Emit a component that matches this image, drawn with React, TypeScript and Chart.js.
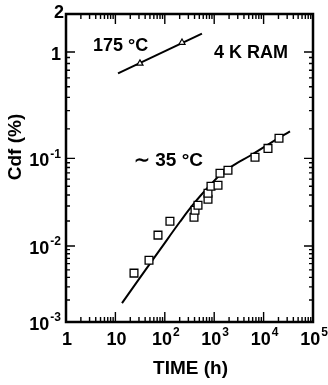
import React, { useEffect, useRef } from 'react';
import { Chart, registerables, Scale } from 'chart.js';

Chart.register(...registerables);

// Axis ticks (value, base text, exponent text)
const xTickValues = [1, 10, 100, 1000, 10000, 100000];
const xTickBases = ['1', '10', '10', '10', '10', '10'];
const xTickExps = ['', '', '2', '3', '4', '5'];
const yTickValues = [0.001, 0.01, 0.1, 1, 2];
const yTickBases = ['10', '10', '10', '1', '2'];
const yTickExps = ['-3', '-2', '-1', '', ''];

// 175 °C series (Cdf in %)
const hot175LineX = [11.3, 565];
const hot175LineY = [0.657, 1.41];
const hot175PointX = [31.4, 223];
const hot175PointY = [0.801, 1.195];

// ~35 °C series (Cdf in %)
const cool35PointX = [23.8, 47.9, 72.8, 127, 390, 409, 470, 749, 749, 861, 1194, 1310, 1901, 6700, 12270, 20500];
const cool35PointY = [0.00454, 0.00663, 0.01357, 0.0199, 0.0222, 0.0268, 0.0306, 0.0358, 0.0418, 0.05, 0.0513, 0.0694, 0.0747, 0.1027, 0.127, 0.161];
const cool35FitX = [13.6, 31.5, 80, 203, 409, 822, 1438, 2636, 5310, 13490, 34200];
const cool35FitY = [0.00182, 0.00397, 0.009, 0.0196, 0.0331, 0.0513, 0.0694, 0.0866, 0.1065, 0.1431, 0.189];

const xTitle = 'TIME (h)';
const yTitle = 'Cdf (%)';
const labelHot = '175 °C';
const labelCool = '∼ 35 °C';
const labelRam = '4 K RAM';

const FONT = '"Liberation Sans", Arial, sans-serif';

const zip = (xs: number[], ys: number[]) => xs.map((x, i) => ({ x, y: ys[i] }));

// Inverse standard normal CDF (Acklam) for a normal-probability (probit) axis
function normInv(p: number): number {
  const a = [-3.969683028665376e1, 2.209460984245205e2, -2.759285104469687e2, 1.38357751867269e2, -3.066479806614716e1, 2.506628277459239];
  const b = [-5.447609879822406e1, 1.615858368580409e2, -1.556989798598866e2, 6.680131188771972e1, -1.328068155288572e1];
  const c = [-7.784894002430293e-3, -3.223964580411365e-1, -2.400758277161838, -2.549732539343734, 4.374664141464968, 2.938163982698783];
  const d = [7.784695709041462e-3, 3.224671290700398e-1, 2.445134137142996, 3.754408661907416];
  const plow = 0.02425;
  if (p < plow) {
    const q = Math.sqrt(-2 * Math.log(p));
    return (((((c[0] * q + c[1]) * q + c[2]) * q + c[3]) * q + c[4]) * q + c[5]) / ((((d[0] * q + d[1]) * q + d[2]) * q + d[3]) * q + 1);
  }
  if (p <= 1 - plow) {
    const q = p - 0.5;
    const r = q * q;
    return ((((((a[0] * r + a[1]) * r + a[2]) * r + a[3]) * r + a[4]) * r + a[5]) * q) / (((((b[0] * r + b[1]) * r + b[2]) * r + b[3]) * r + b[4]) * r + 1);
  }
  const q = Math.sqrt(-2 * Math.log(1 - p));
  return -(((((c[0] * q + c[1]) * q + c[2]) * q + c[3]) * q + c[4]) * q + c[5]) / ((((d[0] * q + d[1]) * q + d[2]) * q + d[3]) * q + 1);
}

function normCdf(z: number): number {
  const t = 1 / (1 + 0.3275911 * Math.abs(z) / Math.SQRT2);
  const y = 1 - (((((1.061405429 * t - 1.453152027) * t) + 1.421413741) * t - 0.284496736) * t + 0.254829592) * t * Math.exp(-(z * z) / 2);
  return z >= 0 ? (1 + y) / 2 : (1 - y) / 2;
}

class ProbitScale extends (Scale as any) {
  static id = 'probit';
  static defaults = {};
  determineDataLimits() {
    this.min = this.options.min;
    this.max = this.options.max;
  }
  buildTicks() {
    return yTickValues.map((v) => ({ value: v }));
  }
  configure() {
    super.configure();
    this._zmin = normInv(this.min / 100);
    this._zmax = normInv(this.max / 100);
  }
  getLabelForValue(v: number) {
    return String(v);
  }
  getPixelForValue(v: number) {
    return this.getPixelForDecimal((normInv(v / 100) - this._zmin) / (this._zmax - this._zmin));
  }
  getValueForPixel(px: number) {
    const z = this._zmin + this.getDecimalForPixel(px) * (this._zmax - this._zmin);
    return normCdf(z) * 100;
  }
}
Chart.register(ProbitScale as any);

function drawPow(ctx: CanvasRenderingContext2D, base: string, exp: string, x: number, y: number, align: 'center' | 'right') {
  ctx.font = `bold 18px ${FONT}`;
  const bw = ctx.measureText(base).width;
  ctx.font = `bold 12px ${FONT}`;
  const ew = exp ? ctx.measureText(exp).width + 1 : 0;
  const total = bw + ew;
  const left = align === 'center' ? x - total / 2 : x - total;
  ctx.textAlign = 'left';
  ctx.textBaseline = 'middle';
  ctx.font = `bold 18px ${FONT}`;
  ctx.fillText(base, left, y);
  if (exp) {
    ctx.font = `bold 12px ${FONT}`;
    ctx.fillText(exp, left + bw + 1, y - 7);
  }
}

const framePlugin = {
  id: 'frameTicks',
  afterDraw(chart: any) {
    const { ctx, chartArea: a, scales } = chart;
    const xs = scales.x;
    const ys = scales.y;
    ctx.save();
    ctx.strokeStyle = '#000';
    ctx.fillStyle = '#000';
    ctx.lineWidth = 1.4;
    ctx.beginPath();
    for (let d = 0; d <= 5; d++) {
      for (let m = 1; m <= 9; m++) {
        const v = m * Math.pow(10, d);
        if (v > 100000) break;
        const px = xs.getPixelForValue(v);
        const len = m === 1 ? 10 : 5;
        ctx.moveTo(px, a.bottom);
        ctx.lineTo(px, a.bottom - len);
        ctx.moveTo(px, a.top);
        ctx.lineTo(px, a.top + len);
      }
    }
    for (let d = -3; d <= 0; d++) {
      for (let m = 1; m <= 9; m++) {
        const v = m * Math.pow(10, d);
        if (v > 2.0001) break;
        const py = ys.getPixelForValue(v);
        const len = m === 1 ? 9 : 4;
        ctx.moveTo(a.left, py);
        ctx.lineTo(a.left + len, py);
        ctx.moveTo(a.right, py);
        ctx.lineTo(a.right - len, py);
      }
    }
    ctx.stroke();
    ctx.lineWidth = 2.5;
    ctx.strokeRect(a.left, a.top, a.right - a.left, a.bottom - a.top);

    xTickValues.forEach((v, i) => {
      drawPow(ctx, xTickBases[i], xTickExps[i], xs.getPixelForValue(v) + 1, 340, 'center');
    });
    yTickValues.forEach((v, i) => {
      const py = ys.getPixelForValue(v);
      drawPow(ctx, yTickBases[i], yTickExps[i], i === 4 ? a.left - 2 : a.left - 5, i === 4 ? py - 1 : py + 3, 'right');
    });

    ctx.textAlign = 'center';
    ctx.textBaseline = 'middle';
    ctx.font = `bold 19px ${FONT}`;
    ctx.fillText(xTitle, (a.left + a.right) / 2 + 1, 369);
    ctx.save();
    ctx.translate(16, 147);
    ctx.rotate(-Math.PI / 2);
    ctx.fillText(yTitle, 0, 0);
    ctx.restore();

    ctx.textAlign = 'left';
    ctx.font = `bold 18px ${FONT}`;
    ctx.fillText(labelHot, 93, 46);
    ctx.fillText(labelRam, 214, 53);
    ctx.font = `bold 19px ${FONT}`;
    ctx.fillText(labelCool, 134, 161);
    ctx.restore();
  },
};

export default function App() {
  const ref = useRef<HTMLCanvasElement | null>(null);
  useEffect(() => {
    if (!ref.current) return;
    const chart = new Chart(ref.current, {
      type: 'scatter',
      data: {
        datasets: [
          {
            label: '175 °C points',
            data: zip(hot175PointX, hot175PointY),
            pointStyle: 'triangle',
            pointRadius: 3.5,
            backgroundColor: '#fff',
            borderColor: '#000',
            borderWidth: 1.2,
            showLine: false,
          },
          {
            label: '~35 °C points',
            data: zip(cool35PointX, cool35PointY),
            pointStyle: 'rect',
            pointRadius: 5.5,
            backgroundColor: '#fff',
            borderColor: '#000',
            borderWidth: 1.3,
            showLine: false,
          },
          {
            label: '175 °C fit',
            data: zip(hot175LineX, hot175LineY),
            showLine: true,
            pointRadius: 0,
            borderColor: '#000',
            borderWidth: 2,
          },
          {
            label: '~35 °C fit',
            data: zip(cool35FitX, cool35FitY),
            showLine: true,
            pointRadius: 0,
            borderColor: '#000',
            borderWidth: 2,
            tension: 0.4,
          },
        ],
      },
      options: {
        animation: false,
        responsive: false,
        layout: { padding: { top: 14, right: 15, left: 0, bottom: 0 } },
        plugins: { legend: { display: false }, tooltip: { enabled: false } },
        scales: {
          x: {
            type: 'logarithmic',
            min: 1,
            max: 100000,
            grid: { display: false, drawTicks: false },
            border: { display: false },
            ticks: { display: false },
            afterFit: (s: any) => { s.height = 63; },
          },
          y: {
            type: 'probit',
            min: 0.001,
            max: 2,
            grid: { display: false, drawTicks: false },
            border: { display: false },
            ticks: { display: false },
            afterFit: (s: any) => { s.width = 66; },
          },
        },
      } as any,
      plugins: [framePlugin],
    });
    return () => chart.destroy();
  }, []);
  return (
    <div style={{ position: 'fixed', left: 0, top: 0, width: 328, height: 385, background: '#fff' }}>
      <canvas ref={ref} width={328} height={385} style={{ display: 'block' }} />
    </div>
  );
}
